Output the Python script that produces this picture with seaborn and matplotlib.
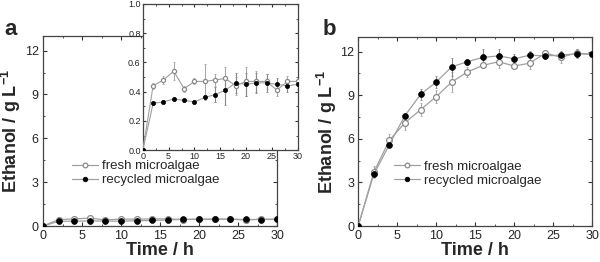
import numpy as np
import pandas as pd
import matplotlib
matplotlib.use("Agg")
import matplotlib.pyplot as plt
import seaborn as sns
from matplotlib.ticker import MultipleLocator, AutoMinorLocator

sns.set_theme(style="ticks")
plt.rcParams['font.family'] = ['Liberation Sans', 'DejaVu Sans']
plt.rcParams['mathtext.fontset'] = 'custom'
plt.rcParams['mathtext.rm'] = 'Liberation Sans'
plt.rcParams['mathtext.bf'] = 'Liberation Sans:bold'

time = [0, 2, 4, 6, 8, 10, 12, 14, 16, 18, 20, 22, 24, 26, 28, 30]

# Panel a (inset scale)
a_fresh = [0, 0.44, 0.48, 0.54, 0.42, 0.47, 0.47, 0.48, 0.49, 0.44, 0.47, 0.47, 0.47, 0.41, 0.47, 0.47]
a_fresh_err = [0, 0.02, 0.03, 0.06, 0.02, 0.02, 0.12, 0.04, 0.08, 0.06, 0.10, 0.07, 0.05, 0.04, 0.04, 0.03]
a_recyc = [0, 0.32, 0.33, 0.35, 0.34, 0.33, 0.36, 0.38, 0.41, 0.46, 0.45, 0.46, 0.46, 0.45, 0.44, 0.45]
a_recyc_err = [0, 0.01, 0.01, 0.01, 0.01, 0.01, 0.02, 0.05, 0.10, 0.07, 0.08, 0.07, 0.06, 0.04, 0.04, 0.03]

# Panel b
b_fresh = [0, 3.7, 5.9, 7.1, 8.0, 8.9, 9.9, 10.6, 11.05, 11.3, 11.0, 11.2, 11.9, 11.6, 11.9, 11.8]
b_fresh_err = [0, 0.4, 0.4, 0.5, 0.45, 0.45, 0.7, 0.35, 0.2, 0.4, 0.2, 0.4, 0.15, 0.4, 0.3, 0.2]
b_recyc = [0, 3.55, 5.6, 7.6, 9.05, 9.9, 10.95, 11.3, 11.6, 11.7, 11.5, 11.75, 11.7, 11.75, 11.85, 11.8]
b_recyc_err = [0, 0.2, 0.2, 0.2, 0.4, 0.4, 0.6, 0.2, 0.55, 0.5, 0.3, 0.3, 0.2, 0.3, 0.3, 0.2]

labels = ["fresh microalgae", "recycled microalgae"]
line_col = "#a0a0a0"


def draw(ax, fresh, ferr, recyc, rerr, ms=4, lw=0.9, legend=True):
    df = pd.DataFrame({"t": time, "fresh": fresh, "recyc": recyc})
    ax.errorbar(time, fresh, yerr=ferr, fmt="none", ecolor="#a8a8a8", elinewidth=0.8, capsize=1.0, capthick=0.6, zorder=2)
    ax.errorbar(time, recyc, yerr=rerr, fmt="none", ecolor="#888888", elinewidth=0.8, capsize=1.0, capthick=0.6, zorder=2)
    sns.lineplot(data=df, x="t", y="fresh", ax=ax, color=line_col, lw=lw, marker="o", markersize=ms,
                 markerfacecolor="white", markeredgecolor="#8a8a8a", markeredgewidth=0.9, label=labels[0] if legend else None, zorder=3)
    sns.lineplot(data=df, x="t", y="recyc", ax=ax, color=line_col, lw=lw, marker="o", markersize=ms,
                 markerfacecolor="black", markeredgecolor="black", markeredgewidth=0.5, label=labels[1] if legend else None, zorder=4)


def style(ax, ymax, ymaj, ymin_n, fs, ticklen=3, pad=3):
    ax.set_xlim(0, 30)
    ax.set_ylim(0, ymax)
    ax.xaxis.set_major_locator(MultipleLocator(5))
    ax.xaxis.set_minor_locator(AutoMinorLocator(2))
    ax.yaxis.set_major_locator(MultipleLocator(ymaj))
    ax.yaxis.set_minor_locator(AutoMinorLocator(ymin_n))
    ax.tick_params(which="both", direction="in", top=True, right=True, labelsize=fs, color="#333333", pad=pad)
    ax.tick_params(which="major", length=ticklen, width=0.8)
    ax.tick_params(which="minor", length=ticklen * 0.6, width=0.6)
    for s in ax.spines.values():
        s.set_color("#444444")
        s.set_linewidth(0.9)


fig = plt.figure(figsize=(6.0, 2.62), dpi=100)

ylab = "Ethanol / g L$^{\\mathbf{-1}}$"

axa = fig.add_axes([0.0717, 0.1374, 0.39, 0.7252])
draw(axa, a_fresh, a_fresh_err, a_recyc, a_recyc_err, ms=4.2)
style(axa, 13, 3, 2, 9)
axa.set_xlabel("Time / h", fontsize=13, fontweight="bold", labelpad=0)
axa.set_ylabel(ylab, fontsize=13, fontweight="bold", labelpad=1)
axa.legend(loc="upper left", bbox_to_anchor=(0.1, 0.375), frameon=False, fontsize=9.5,
           handlelength=2.0, handletextpad=0.3, labelspacing=0.15, borderaxespad=0, markerscale=0.8)

ins = fig.add_axes([0.238, 0.427, 0.258, 0.558])
ins.set_facecolor("white")
draw(ins, a_fresh, a_fresh_err, a_recyc, a_recyc_err, ms=3.0, lw=0.8, legend=False)
style(ins, 1.0, 0.2, 2, 6.5, ticklen=2, pad=1.5)
ins.set_xlabel("")
ins.set_ylabel("")

axb = fig.add_axes([0.597, 0.1374, 0.39, 0.7214])
draw(axb, b_fresh, b_fresh_err, b_recyc, b_recyc_err, ms=4.2)
style(axb, 13, 3, 2, 9)
axb.set_xlabel("Time / h", fontsize=13, fontweight="bold", labelpad=0)
axb.set_ylabel(ylab, fontsize=13, fontweight="bold", labelpad=1)
axb.legend(loc="upper left", bbox_to_anchor=(0.13, 0.375), frameon=False, fontsize=9.5,
           handlelength=2.0, handletextpad=0.3, labelspacing=0.15, borderaxespad=0, markerscale=0.8)

fig.text(0.008, 0.865, "a", fontsize=16, fontweight="bold")
fig.text(0.538, 0.865, "b", fontsize=16, fontweight="bold")

fig.savefig("out.png", dpi=100)
